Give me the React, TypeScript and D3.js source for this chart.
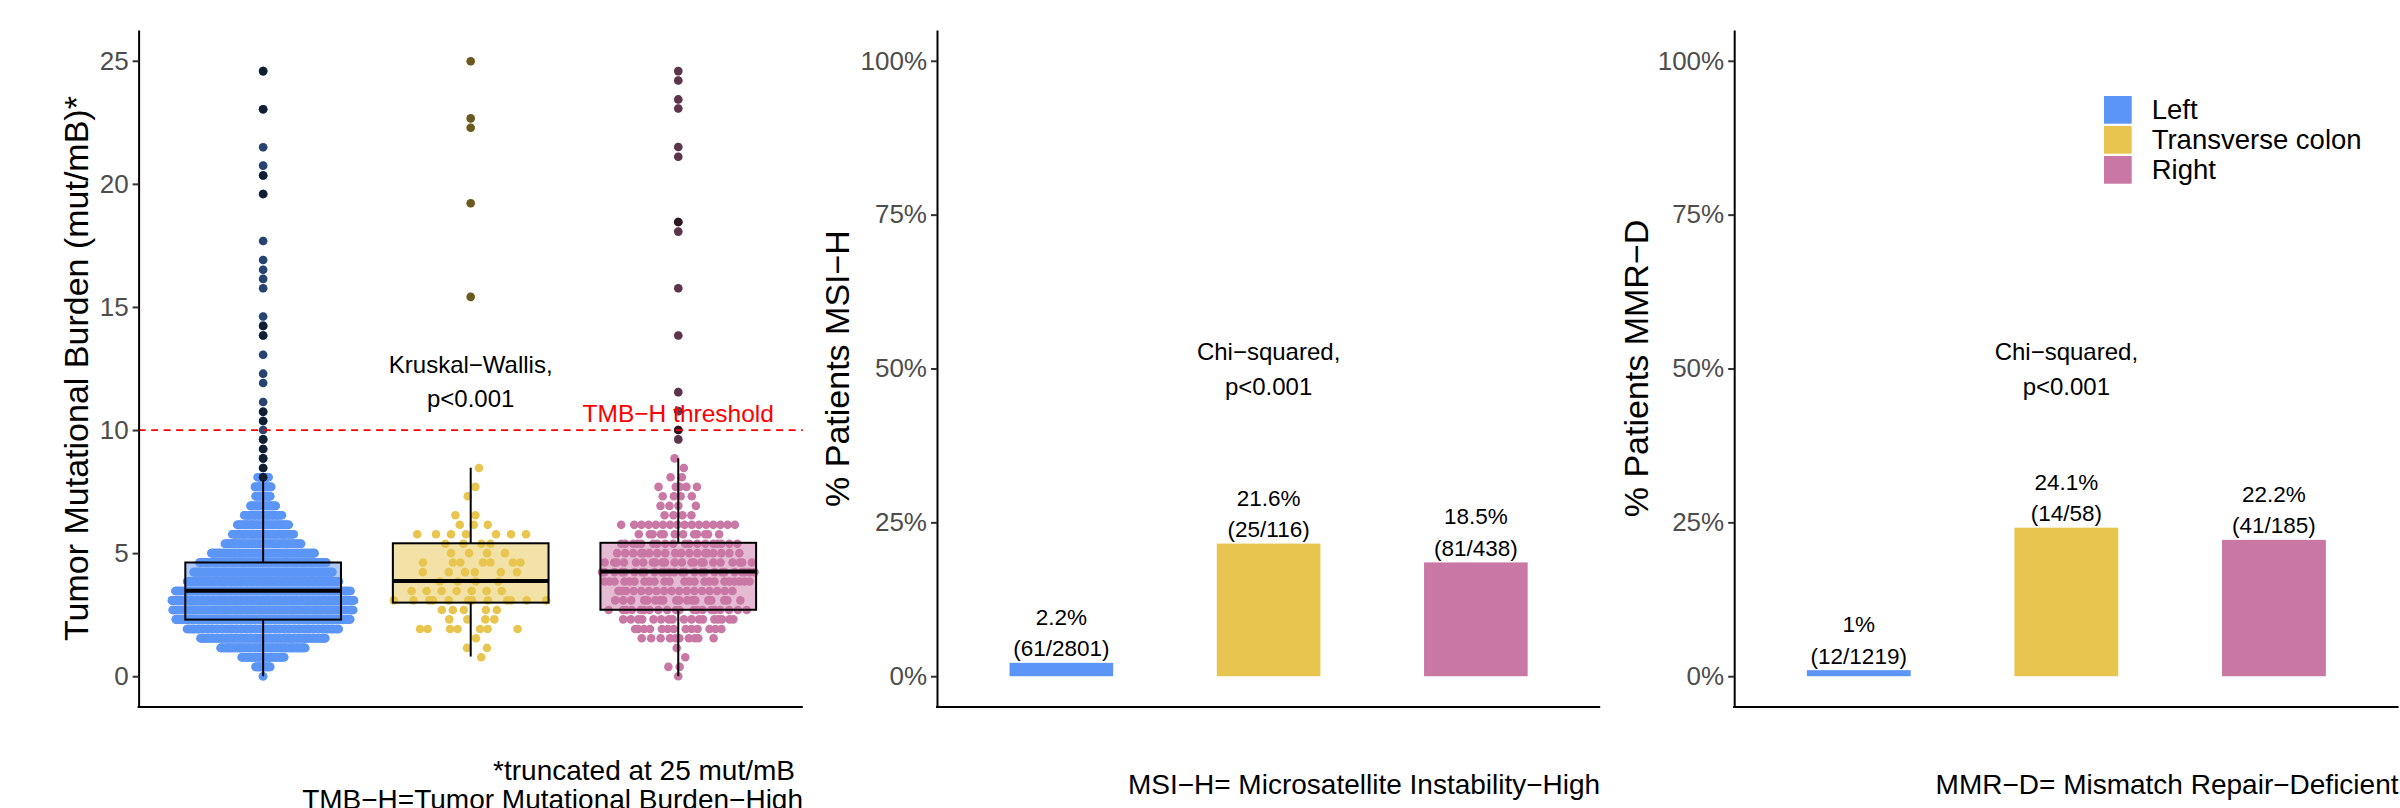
import React, { useEffect, useRef } from "react";
import * as d3 from "d3";

// categories
const groups = ["Left", "Transverse colon", "Right"];
const groupColors = ["#5B95F6", "#E8C54F", "#C977A5"];

// TMB is reported in steps of ~0.385 mut/mB
const tmbLevels = [0, 0.38, 0.77, 1.15, 1.54, 1.92, 2.31, 2.69, 3.08, 3.46, 3.85, 4.23, 4.62, 5.0, 5.38, 5.77, 6.15, 6.54, 6.92, 7.31, 7.69, 8.08, 8.46, 8.85];

// number of patients at each TMB level
const leftCounts = [2, 22, 57, 111, 163, 198, 226, 234, 236, 227, 197, 180, 166, 135, 100, 81, 68, 50, 34, 22, 23, 16];
const transverseCounts = [0, 0, 1, 2, 1, 7, 4, 5, 12, 7, 4, 6, 7, 4, 4, 7, 3, 2, 0, 1, 1, 0, 1];
const rightCounts = [1, 2, 1, 1, 10, 13, 17, 20, 18, 17, 23, 26, 22, 18, 18, 12, 16, 4, 4, 4, 5, 2, 1, 1];

// boxplot outliers (values, repeated when several patients share it)
const leftOutliers = [24.58, 24.58, 23.03, 23.03, 21.49, 20.74, 20.34, 20.34, 19.59, 19.59, 17.68, 16.91, 16.51, 16.14, 15.76, 14.61, 14.23, 14.23, 13.84, 13.84, 13.06, 12.29, 11.91, 11.14, 10.74, 10.74, 10.37, 10.37, 10.0, 9.62, 9.62, 9.23, 9.23, 8.85, 8.85, 8.46, 8.46, 8.08, 8.08];
const transverseOutliers = [24.98, 22.66, 22.28, 19.21, 15.41];
const rightOutliers = [24.58, 24.2, 23.43, 23.06, 21.5, 21.1, 18.45, 18.45, 18.06, 15.76, 13.84, 11.54, 10.77, 10.0, 10.0, 9.62];

// [lower whisker, q1, median, q3, upper whisker]
const leftBox = [0, 2.3, 3.47, 4.62, 7.97];
const transverseBox = [0.8, 2.99, 3.87, 5.4, 8.47];
const rightBox = [0, 2.7, 4.25, 5.42, 8.85];

const tmbTicks = [0, 5, 10, 15, 20, 25];
const tmbThreshold = 10;

// MSI-H and MMR-D counts
const msiPos = [61, 25, 81];
const msiTotal = [2801, 116, 438];
const mmrPos = [12, 14, 41];
const mmrTotal = [1219, 58, 185];
const pctTicks = [0, 25, 50, 75, 100];

const FONT = "'Liberation Sans', Arial, Helvetica, sans-serif";
const W = 2400, H = 808;
const top = 30, bottom = 707;

// van der Corput sequence, used to spread points sideways like a quasirandom plot
function vdc(i: number) {
  let v = 0, d = 0.5;
  while (i > 0) {
    if (i & 1) v += d;
    i >>= 1;
    d /= 2;
  }
  return v;
}

function drawYAxis(g: any, y: any, ticks: number[], fmt: (d: number) => string) {
  const ax = g.append("g").call(
    d3.axisLeft(y).tickValues(ticks).tickFormat(fmt as any).tickSize(6).tickSizeOuter(0).tickPadding(4)
  );
  ax.select(".domain").attr("stroke", "#000").attr("stroke-width", 2);
  ax.selectAll(".tick line").attr("stroke", "#333").attr("stroke-width", 2);
  ax.selectAll(".tick text").attr("fill", "#4D4D4D").style("font-size", "26px").style("font-family", FONT);
}

function drawXLine(g: any, x0: number, x1: number) {
  g.append("line").attr("x1", x0 - 1).attr("x2", x1).attr("y1", bottom).attr("y2", bottom)
    .attr("stroke", "#000").attr("stroke-width", 2);
}

function yTitle(svg: any, x: number, text: string) {
  svg.append("text")
    .attr("transform", `translate(${x}, ${(top + bottom) / 2}) rotate(-90)`)
    .attr("text-anchor", "middle")
    .style("font-size", "34px")
    .style("font-family", FONT)
    .text(text);
}

function drawTmb(svg: any) {
  const x0 = 138.6, x1 = 802.8;
  const g = svg.append("g");
  const x = d3.scalePoint().domain(groups).range([x0, x1]).padding(0.6);
  const step = x.step();
  const y = d3.scaleLinear().domain([-1.25, 26.25]).range([bottom, top]);

  const counts = [leftCounts, transverseCounts, rightCounts];
  const outliers = [leftOutliers, transverseOutliers, rightOutliers];
  const boxes = [leftBox, transverseBox, rightBox];
  // sideways spread per group: base half width, growth per point, max half width
  const spread = [[0, 0.39, 100], [12, 8, 78], [8, 3.3, 80]];
  const r = 4.3;

  groups.forEach((grp, gi) => {
    const cx = x(grp) as number;
    const col = groupColors[gi];
    const [base, grow, cap] = spread[gi];

    const pts: { x: number; y: number }[] = [];
    counts[gi].forEach((n, li) => {
      const hw = Math.min(cap, base + Math.max(0, n - 1) * grow);
      for (let k = 0; k < n; k++) {
        const u = vdc(k + 1 + li * 7);
        pts.push({ x: cx + (u * 2 - 1) * hw, y: y(tmbLevels[li]) });
      }
    });
    g.append("g").selectAll("circle").data(pts).enter().append("circle")
      .attr("cx", (d: any) => d.x).attr("cy", (d: any) => d.y).attr("r", r).attr("fill", col);

    // colored points of the outlier patients
    g.append("g").selectAll("circle").data(outliers[gi]).enter().append("circle")
      .attr("cx", cx).attr("cy", (d: number) => y(d)).attr("r", r).attr("fill", col);

    const [lo, q1, med, q3, hi] = boxes[gi];
    const bw = step * 0.75;
    g.append("line").attr("x1", cx).attr("x2", cx).attr("y1", y(q3)).attr("y2", y(hi))
      .attr("stroke", "#000").attr("stroke-width", 2);
    g.append("line").attr("x1", cx).attr("x2", cx).attr("y1", y(q1)).attr("y2", y(lo))
      .attr("stroke", "#000").attr("stroke-width", 2);
    g.append("rect").attr("x", cx - bw / 2).attr("width", bw)
      .attr("y", y(q3)).attr("height", y(q1) - y(q3))
      .attr("fill", col).attr("fill-opacity", 0.5)
      .attr("stroke", "#000").attr("stroke-width", 2);
    g.append("line").attr("x1", cx - bw / 2).attr("x2", cx + bw / 2).attr("y1", y(med)).attr("y2", y(med))
      .attr("stroke", "#000").attr("stroke-width", 4);

    // boxplot outlier marks
    g.append("g").selectAll("circle").data(outliers[gi]).enter().append("circle")
      .attr("cx", cx).attr("cy", (d: number) => y(d)).attr("r", r)
      .attr("fill", "#000").attr("fill-opacity", 0.55);
  });

  g.append("line").attr("x1", x0).attr("x2", x1).attr("y1", y(tmbThreshold)).attr("y2", y(tmbThreshold))
    .attr("stroke", "#FF0000").attr("stroke-width", 1.8).attr("stroke-dasharray", "7,5.5");
  g.append("text").attr("x", x("Right") as number).attr("y", y(tmbThreshold) - 8.5)
    .attr("text-anchor", "middle").attr("fill", "#FF0000")
    .style("font-size", "24.5px").style("font-family", FONT)
    .text("TMB\u2212H threshold");

  const kx = x("Transverse colon") as number;
  g.append("text").attr("x", kx).attr("y", y(12.33)).attr("text-anchor", "middle")
    .style("font-size", "24px").style("font-family", FONT).text("Kruskal\u2212Wallis,");
  g.append("text").attr("x", kx).attr("y", y(12.33) + 34.5).attr("text-anchor", "middle")
    .style("font-size", "24px").style("font-family", FONT).text("p<0.001");

  drawYAxis(g.append("g").attr("transform", `translate(${x0},0)`), y, tmbTicks, (d) => String(d));
  drawXLine(g, x0, x1);
  yTitle(svg, 88, "Tumor Mutational Burden (mut/mB)*");

  svg.append("text").attr("x", 795).attr("y", 780).attr("text-anchor", "end")
    .style("font-size", "28px").style("font-family", FONT).text("*truncated at 25 mut/mB");
  svg.append("text").attr("x", 803).attr("y", 808.5).attr("text-anchor", "end")
    .style("font-size", "28px").style("font-family", FONT).text("TMB\u2212H=Tumor Mutational Burden\u2212High");
}

function drawBars(svg: any, x0: number, x1: number, pos: number[], total: number[], title: string, titleX: number, caption: string) {
  const g = svg.append("g");
  const x = d3.scalePoint().domain(groups).range([x0, x1]).padding(0.6);
  const step = x.step();
  const y = d3.scaleLinear().domain([-5, 105]).range([bottom, top]);
  const data = groups.map((grp, i) => ({ grp, i, pct: (pos[i] / total[i]) * 100, lab: `(${pos[i]}/${total[i]})` }));
  const bw = step * 0.5;

  g.selectAll(".bar").data(data).enter().append("rect")
    .attr("class", "bar")
    .attr("x", (d: any) => (x(d.grp) as number) - bw / 2)
    .attr("width", bw)
    .attr("y", (d: any) => y(d.pct))
    .attr("height", (d: any) => y(0) - y(d.pct))
    .attr("fill", (d: any) => groupColors[d.i]);

  const lbl = g.selectAll(".lbl").data(data).enter().append("g").attr("class", "lbl");
  lbl.append("text")
    .attr("x", (d: any) => x(d.grp) as number).attr("y", (d: any) => y(d.pct) - 38)
    .attr("text-anchor", "middle").style("font-size", "22.5px").style("font-family", FONT)
    .text((d: any) => `${+d.pct.toFixed(1)}%`);
  lbl.append("text")
    .attr("x", (d: any) => x(d.grp) as number).attr("y", (d: any) => y(d.pct) - 6.5)
    .attr("text-anchor", "middle").style("font-size", "22.5px").style("font-family", FONT)
    .text((d: any) => d.lab);

  const cx = x("Transverse colon") as number;
  g.append("text").attr("x", cx).attr("y", y(51.3)).attr("text-anchor", "middle")
    .style("font-size", "24px").style("font-family", FONT).text("Chi\u2212squared,");
  g.append("text").attr("x", cx).attr("y", y(51.3) + 35).attr("text-anchor", "middle")
    .style("font-size", "24px").style("font-family", FONT).text("p<0.001");

  drawYAxis(g.append("g").attr("transform", `translate(${x0},0)`), y, pctTicks, (d) => `${d}%`);
  drawXLine(g, x0, x1);
  yTitle(svg, titleX, title);

  svg.append("text").attr("x", x1).attr("y", 794).attr("text-anchor", "end")
    .style("font-size", "28px").style("font-family", FONT).text(caption);
}

function drawLegend(svg: any) {
  const lg = svg.append("g").attr("transform", "translate(2104, 96)");
  const rows = lg.selectAll("g").data(groups).enter().append("g")
    .attr("transform", (_d: string, i: number) => `translate(0, ${i * 30})`);
  rows.append("rect").attr("width", 27.7).attr("height", 27.7)
    .attr("fill", (_d: string, i: number) => groupColors[i]);
  rows.append("text").attr("x", 47.7).attr("y", 23.3)
    .style("font-size", "27.5px").style("font-family", FONT)
    .text((d: string) => d);
}

export default function App() {
  const ref = useRef<SVGSVGElement>(null);

  useEffect(() => {
    const svg = d3.select(ref.current);
    svg.selectAll("*").remove();
    svg.append("rect").attr("width", W).attr("height", H).attr("fill", "#fff");

    drawTmb(svg);
    drawBars(svg, 937, 1600.2, msiPos, msiTotal, "% Patients MSI\u2212H", 849, "MSI\u2212H= Microsatellite Instability\u2212High");
    drawBars(svg, 1734.2, 2398.5, mmrPos, mmrTotal, "% Patients MMR\u2212D", 1648, "MMR\u2212D= Mismatch Repair\u2212Deficient");
    drawLegend(svg);
  }, []);

  return (
    <svg ref={ref} width={W} height={H} style={{ position: "absolute", left: 0, top: 0 }} />
  );
}
